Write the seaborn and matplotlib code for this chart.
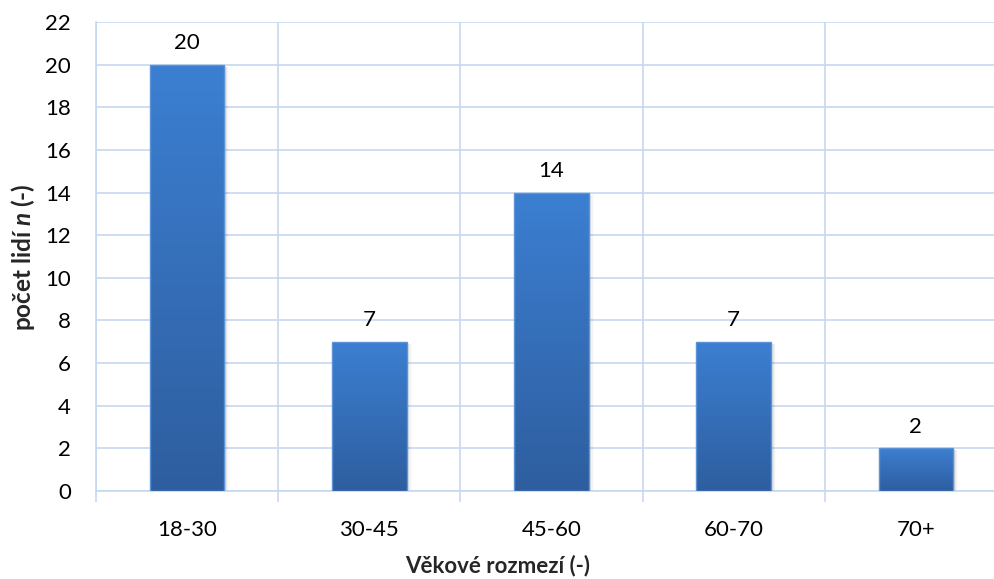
import numpy as np
import matplotlib
matplotlib.use("Agg")
import matplotlib.pyplot as plt
from matplotlib.colors import LinearSegmentedColormap
import seaborn as sns

# Age groups and number of respondents in each
categories = ["18-30", "30-45", "45-60", "60-70", "70+"]
counts = [20, 7, 14, 7, 2]
y_ticks = list(range(0, 23, 2))

grid_color = "#c6d8f0"
top_color = "#3c7fd2"
bottom_color = "#2e5e9f"
edge_color = "#5c92d6"

sns.set_theme(style="white")
plt.rcParams["font.family"] = ["Lato", "DejaVu Sans"]
plt.rcParams["mathtext.fontset"] = "custom"
plt.rcParams["mathtext.it"] = "Lato:bold:italic"
plt.rcParams["mathtext.rm"] = "Lato:bold"

fs = 16

fig = plt.figure(figsize=(9.95, 5.79), dpi=100)
ax = fig.add_axes([0.0965, 0.152, 0.9156, 0.810])

sns.barplot(x=categories, y=counts, width=0.41, color=top_color,
            edgecolor=edge_color, linewidth=1.0, ax=ax, zorder=3)

# vertical gradient inside each bar plus a soft shadow on its right side
cmap = LinearSegmentedColormap.from_list("bar", [bottom_color, top_color])
grad = np.linspace(0, 1, 256).reshape(-1, 1)
for p in ax.patches:
    x0, y0 = p.get_x(), p.get_y()
    w, h = p.get_width(), p.get_height()
    for k, a in enumerate([0.08, 0.05, 0.03, 0.015]):
        ax.add_patch(plt.Rectangle((x0 + w, y0), 0.007 * (k + 1), h - 0.1,
                                   facecolor="#000000", alpha=a,
                                   edgecolor="none", zorder=2))
    im = ax.imshow(grad, cmap=cmap, aspect="auto", origin="lower",
                   extent=[x0, x0 + w, y0, y0 + h], zorder=3.5)
    im.set_clip_path(p)
    p.set_zorder(4)
    p.set_facecolor("none")

for i, v in enumerate(counts):
    ax.text(i, v + 0.55, str(v), ha="center", va="bottom",
            fontsize=fs, color="#000000")

ax.set_xlim(-0.5, len(categories) - 0.5)
ax.set_ylim(0, 22)
ax.set_yticks(y_ticks)
ax.set_yticklabels([str(t) for t in y_ticks], fontsize=fs)
ax.set_xticks(range(len(categories)))
ax.set_xticklabels(categories, fontsize=fs)
ax.set_xticks(np.arange(-0.5, len(categories), 1.0), minor=True)

ax.tick_params(axis="y", which="major", direction="out", length=8,
               width=1.2, color=grid_color, pad=10, labelcolor="#000000")
ax.tick_params(axis="x", which="major", length=0, pad=21,
               labelcolor="#000000")
ax.tick_params(axis="x", which="minor", direction="out", length=8,
               width=1.2, color=grid_color, bottom=True)

ax.grid(axis="y", which="major", color=grid_color, linewidth=1.2, zorder=0)
ax.grid(axis="x", which="minor", color=grid_color, linewidth=1.2, zorder=0)
ax.set_axisbelow(True)

for s in ["top", "right"]:
    ax.spines[s].set_visible(False)
for s in ["left", "bottom"]:
    ax.spines[s].set_color(grid_color)
    ax.spines[s].set_linewidth(1.2)

ax.set_xlabel("")
ax.set_ylabel("")
fig.text(0.023, 1 - 257 / 579, "počet lidí $n$ (-)", rotation=90,
         ha="center", va="center", fontsize=17.5, fontweight="bold")
fig.text(0.5, 0.024, "Věkové rozmezí (-)", ha="center", va="center",
         fontsize=fs, fontweight="bold")

fig.savefig("out.png", dpi=100)
